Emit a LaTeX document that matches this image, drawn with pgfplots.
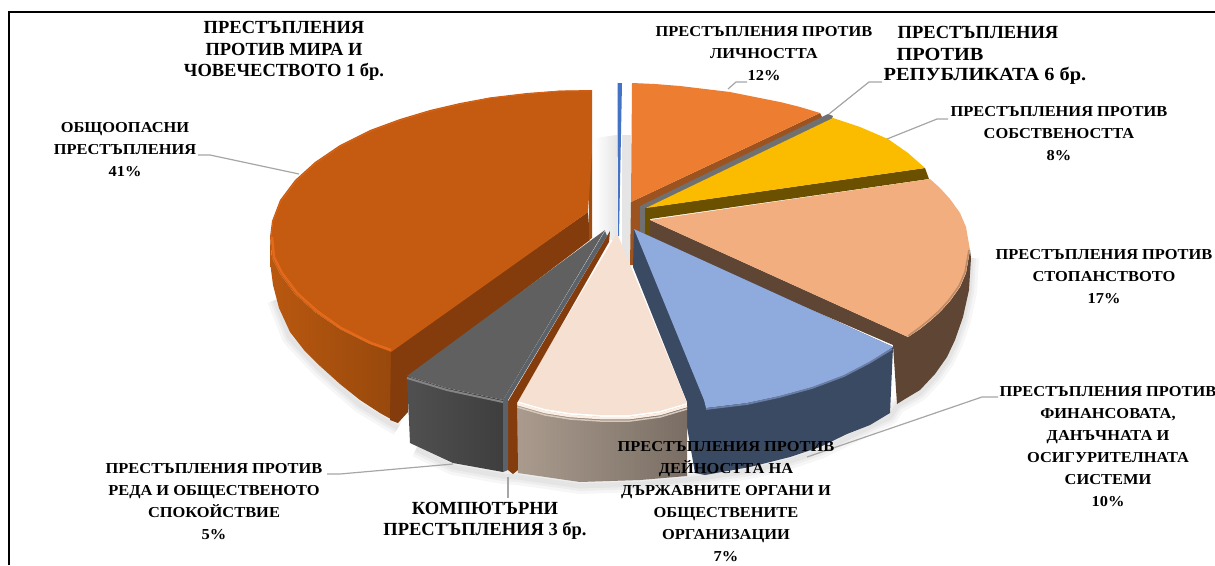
\documentclass[border=0pt]{standalone}
\usepackage{pgfplots}
\pgfplotsset{compat=1.18}
\usepackage{fontspec}
\setmainfont{Liberation Serif}
\newfontfamily\lab[FakeStretch=1.08]{Liberation Serif}
\newfontfamily\wide[FakeStretch=1.1]{Liberation Serif}
\definecolor{leader}{HTML}{A6A6A6}
\newcommand{\shadowline}[1]{%
\addplot[draw=black,opacity=.035,line width=16pt,line join=round] coordinates {#1};
\addplot[draw=black,opacity=.035,line width=10pt,line join=round] coordinates {#1};
\addplot[draw=black,opacity=.04,line width=5pt,line join=round] coordinates {#1};}
\begin{document}
\begin{tikzpicture}
\useasboundingbox (0,0) rectangle (1215pt,565pt);
\begin{axis}[at={(0,0)},anchor=south west,scale only axis,width=1215pt,height=565pt,
  xmin=0,xmax=1215,ymin=0,ymax=565,y dir=reverse,hide axis,clip=true]
% frame
\addplot[draw=black,line width=1.4pt] coordinates {(9,565)(9,12)(1215,12)};
% background shadow around the gap
\addplot[fill=black!10,draw=none] coordinates {(622,135)(631,135)(631,263)(622,263)};
\addplot[draw=none,left color=white,right color=black!10] coordinates {(594,138)(617,135)(617,240)(594,240)};
% soft drop shadows
\shadowline{(275,300)(290,338)(320,370)(360,405)(398,428)}
\shadowline{(416,449)(453,467)(503,476)(518,477)(580,486)(640,484)(686,480)(750,471)(790,461)(820,451)(847,438)(890,417)(897,406)(920,393)(935,377)(947,360)(955,343)(963,320)(969,292)(971,258)}
% thin blue slice
\addplot[fill={rgb,255:red,68;green,114;blue,196},draw=none] coordinates {(617.5,83)(622,83)(619,236)(618,236)};
% big orange: outer wall
\addplot[draw=none,left color={rgb,255:red,185;green,88;blue,16},right color={rgb,255:red,150;green,72;blue,12}] coordinates
 {(270,237)(270,262)(273,285)(279,308)(290,332)(304,350)(320,366)(340,384)(360,400)(380,413)(398,423)(395,352)(370,344)(340,329)(315,312)(295,294)(280,274)(272,258)};
% big orange: radial walls
\addplot[fill={rgb,255:red,132;green,60;blue,12},draw=none] coordinates
 {(391,350)(588,212)(590,240)(408,378)(408,412)(398,423)(390,420)};
\addplot[fill={rgb,255:red,160;green,78;blue,16},draw=none] coordinates {(589,150)(592,150)(592,238)(589,240)};
% big orange: top
\addplot[fill={rgb,255:red,197;green,90;blue,17},draw=none] coordinates
 {(592,90)(560,90.6)(527,93)(490,97.4)(460,103)(430,110)(400,119)(370,130)(340,145)(315,162)(295,180)(280,200)(272,221)(270,237)(272,258)(280,274)(295,294)(315,312)(340,329)(370,344)(391,352)(588,212)(592,150)};
\addplot[draw={rgb,255:red,228;green,106;blue,26},line width=2.4pt] coordinates
 {(272,237)(274,257)(282,273)(297,293)(317,311)(341,328)(371,343)(391,350)};
\addplot[draw={rgb,255:red,220;green,100;blue,22},line width=.8pt] coordinates
 {(271,237)(273,221)(281,201)(296,181)(316,163)(341,146)(371,131)(401,120)(431,111)(461,104)(491,98)(527,94)(560,91)(591,91)};
% orange 12%: wall and top
\addplot[fill={rgb,255:red,156;green,83;blue,32},draw=none] coordinates
 {(631,202)(820,113)(823,119)(640,207)(640,232)(634,232)(634,265)(630,265)};
\addplot[fill={rgb,255:red,237;green,125;blue,49},draw=none] coordinates
 {(632,83)(655,84)(680,86)(705,89)(730,92)(755,97)(780,102)(800,107)(820,113)(631,202)};
% thin grey slice
\addplot[fill={rgb,255:red,112;green,112;blue,112},draw=none] coordinates
 {(828,114)(833,116)(831,121)(646,211)(646,234)(640,234)(640,206)};
% yellow
\addplot[fill={rgb,255:red,107;green,80;blue,0},draw=none] coordinates
 {(645,208)(925,168)(929,179)(650,219)(650,236)(645,236)};
\addplot[fill={rgb,255:red,251;green,188;blue,0},draw=none] coordinates
 {(833,118)(860,127)(888,139)(908,153)(925,168)(646,208)};
% peach: wall and top
\addplot[fill={rgb,255:red,95;green,70;blue,52},draw=none] coordinates
 {(650,220)(908,337)(920,329)(930,321)(940,312)(950,301)(960,287)(966,273)(970,250)(971,258)(969,290)(963,317)(955,340)(947,357)(935,374)(920,390)(905,399)(897,404)(893,345)(650,240)};
\addplot[fill={rgb,255:red,242;green,174;blue,127},draw=none] coordinates
 {(650,220)(930,179)(940,188)(950,199)(960,213)(966,227)(970,250)(966,273)(960,287)(950,301)(940,312)(930,321)(920,329)(908,337)};
\addplot[draw={rgb,255:red,190;green,140;blue,104},line width=1.6pt] coordinates
 {(969,250)(965,272)(959,286)(949,300)(939,311)(929,320)(919,328)(908,336)};
% blue: wall and top
\addplot[fill={rgb,255:red,58;green,74;blue,99},draw=none] coordinates
 {(634,229)(893,347)(890,413)(870,425)(847,434)(820,447)(790,457)(750,467)(705,475)(695,473)(687,427)(687,402)(633,267)};
\addplot[fill={rgb,255:red,143;green,170;blue,220},draw=none] coordinates
 {(634,229)(893,347)(870,362)(845,375)(813,387)(780,396)(747,403)(706,408)(704,400)};
\addplot[draw={rgb,255:red,105;green,125;blue,165},line width=1.8pt] coordinates
 {(892,349)(869,363)(844,376)(812,388)(779,397)(747,404)(706,409)};
% cream: wall and top
\addplot[draw=none,left color={rgb,255:red,170;green,155;blue,142},right color={rgb,255:red,122;green,110;blue,100}] coordinates
 {(517,403)(545,411)(570,415)(600,417)(630,417)(660,413)(687,405)(687,476)(640,480)(580,482)(518,473)};
\addplot[fill={rgb,255:red,246;green,224;blue,209},draw=none] coordinates
 {(617,233)(687,403)(660,411)(630,415)(600,415)(570,413)(545,409)(517,401)};
\addplot[draw={rgb,255:red,252;green,238;blue,226},line width=2.5pt] coordinates
 {(517,404)(545,412)(570,416)(600,418)(630,418)(660,414)(687,406)};
\addplot[draw={rgb,255:red,215;green,200;blue,188},line width=1.5pt] coordinates
 {(517,407)(545,415)(570,419)(600,421)(630,421)(660,417)(687,409)};
% brown thin slice
\addplot[fill={rgb,255:red,132;green,60;blue,12},draw=none] coordinates
 {(610,231)(609,242)(517,403)(518,470)(513,474)(508,470)(507,403)};
% dark grey: wall and top
\addplot[draw=none,left color={rgb,255:red,80;green,80;blue,80},right color={rgb,255:red,62;green,62;blue,62}] coordinates
 {(407,376)(447,388)(503,400)(503,472)(453,463)(410,443)};
\addplot[fill={rgb,255:red,92;green,98;blue,106},draw=none] coordinates
 {(605,231)(607,236)(508,400)(508,470)(503,472)(503,400)};
\addplot[fill={rgb,255:red,96;green,96;blue,96},draw=none] coordinates
 {(605,230)(407,376)(447,388)(503,400)};
\addplot[draw={rgb,255:red,132;green,132;blue,132},line width=2pt] coordinates
 {(407,378)(447,390)(503,402)};
% leader lines
\addplot[draw=leader,line width=1.2pt] coordinates {(728,89)(736,82)(747,82)};
\addplot[draw=leader,line width=1.2pt] coordinates {(829,114)(869,82)(882,82)};
\addplot[draw=leader,line width=1.2pt] coordinates {(887,139)(937,119)(948,119)};
\addplot[draw=leader,line width=1.2pt] coordinates {(198,155)(210,155)(299,174)};
\addplot[draw=leader,line width=1.2pt] coordinates {(807,457)(982,397)(998,397)};
\addplot[draw=leader,line width=1.2pt] coordinates {(327,474)(340,474)(453,464)};
\addplot[draw=leader,line width=1.2pt] coordinates {(508,477)(508,498)};
% labels
\tikzset{t/.style={align=center,inner sep=0pt,text=black,font=\fontsize{18.5}{21.5}\selectfont\bfseries},
 tw/.style={align=center,inner sep=0pt,text=black,font=\wide\fontsize{18.5}{21.5}\selectfont\bfseries},
 l/.style={align=center,inner sep=0pt,text=black,font=\lab\fontsize{15.2}{22}\selectfont\bfseries}}
\node[t] at (axis cs:284,51) {ПРЕСТЪПЛЕНИЯ\\ПРОТИВ МИРА И\\ЧОВЕЧЕСТВОТО 1 бр.};
\node[l] at (axis cs:764,54) {ПРЕСТЪПЛЕНИЯ ПРОТИВ\\ЛИЧНОСТТА\\12\%};
\node[t] at (axis cs:978,32) {ПРЕСТЪПЛЕНИЯ};
\node[tw] at (axis cs:940,54) {ПРОТИВ};
\node[tw] at (axis cs:985,76) {РЕПУБЛИКАТА 6 бр.};
\node[l] at (axis cs:1059,134) {ПРЕСТЪПЛЕНИЯ ПРОТИВ\\СОБСТВЕНОСТТА\\8\%};
\node[l] at (axis cs:1104,277) {ПРЕСТЪПЛЕНИЯ ПРОТИВ\\СТОПАНСТВОТО\\17\%};
\node[l] at (axis cs:1108,447) {ПРЕСТЪПЛЕНИЯ ПРОТИВ\\ФИНАНСОВАТА,\\ДАНЪЧНАТА И\\ОСИГУРИТЕЛНАТА\\СИСТЕМИ\\10\%};
\node[l] at (axis cs:726,502) {ПРЕСТЪПЛЕНИЯ ПРОТИВ\\ДЕЙНОСТТА НА\\ДЪРЖАВНИТЕ ОРГАНИ И\\ОБЩЕСТВЕНИТЕ\\ОРГАНИЗАЦИИ\\7\%};
\node[l] at (axis cs:214,502) {ПРЕСТЪПЛЕНИЯ ПРОТИВ\\РЕДА И ОБЩЕСТВЕНОТО\\СПОКОЙСТВИЕ\\5\%};
\node[t] at (axis cs:485,521) {КОМПЮТЪРНИ\\ПРЕСТЪПЛЕНИЯ 3 бр.};
\node[l] at (axis cs:125,150) {ОБЩООПАСНИ\\ПРЕСТЪПЛЕНИЯ\\41\%};
\end{axis}
\end{tikzpicture}
\end{document}
